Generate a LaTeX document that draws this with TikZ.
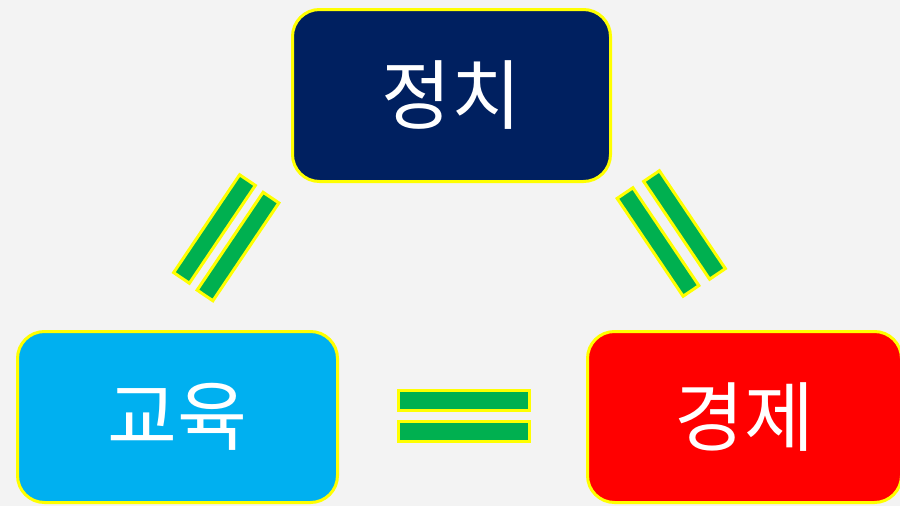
\documentclass[tikz,border=0pt]{standalone}
\usepackage{fontspec}
\newfontfamily\krfont{Noto Sans CJK KR}
\definecolor{bgc}{HTML}{F3F3F3}
\definecolor{navy}{HTML}{002060}
\definecolor{skyc}{HTML}{00B0F0}
\definecolor{redc}{HTML}{FF0000}
\definecolor{greenc}{HTML}{00B050}
\definecolor{yellowc}{HTML}{FFFF00}
\tikzset{
  box/.style={draw=yellowc, line width=3pt, rounded corners=27pt, minimum width=318pt, minimum height=172pt, inner sep=0pt, text=white, font=\krfont\fontsize{76}{88}\selectfont},
  eqbar/.style={draw=yellowc, fill=greenc, line width=3pt, minimum width=118pt, minimum height=19pt, inner sep=0pt},
  hbar/.style={eqbar, minimum width=131pt, minimum height=20pt}
}
\begin{document}
\begin{tikzpicture}[x=1pt,y=-1pt]
\fill[bgc] (0,0) rectangle (900,506);
\useasboundingbox (0,0) rectangle (900,506);
\node[box, fill=navy] (pol) at (451.5,95.5) {정치};
\node[box, fill=skyc, minimum width=320pt, minimum height=171pt] (edu) at (177.5,417) {교육};
\node[box, fill=redc, minimum width=314pt, minimum height=171pt] (eco) at (744.5,417) {경제};
\node[eqbar, rotate=56] (l1) at (214.5,229) {};
\node[eqbar, rotate=56] (l2) at (238,246.5) {};
\node[eqbar, rotate=-56] (r1) at (658,242) {};
\node[eqbar, rotate=-56] (r2) at (684.5,225) {};
\node[hbar] (h1) at (464,400.5) {};
\node[hbar] (h2) at (464,431) {};
\end{tikzpicture}
\end{document}
